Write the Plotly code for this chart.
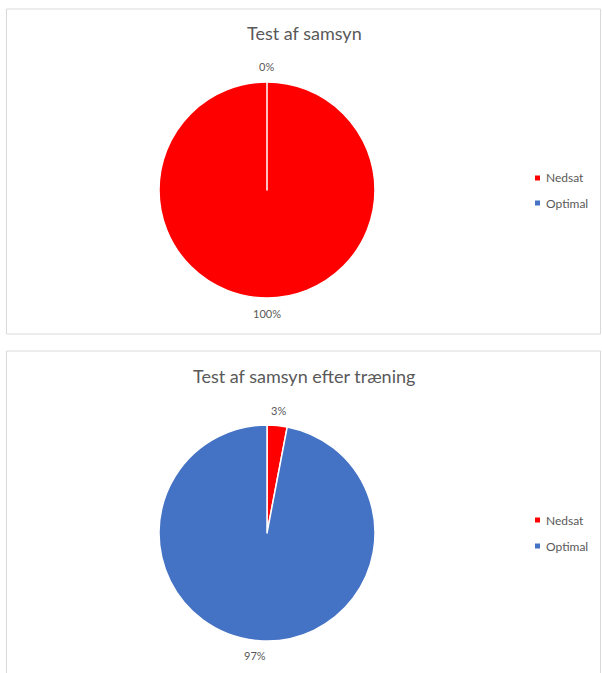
import math
import plotly.graph_objects as go

# Chart data
categories = ["Nedsat", "Optimal"]
colors = ["#FF0000", "#4472C4"]
before_values = [100, 0]
after_values = [3, 97]
titles = ["Test af samsyn", "Test af samsyn efter træning"]

W, H = 602, 673
TEXT_GREY = "#595959"
FONT = "Lato"
RADIUS = 108
LABEL_DIST = 123


def fx(px):
    return px / W


def fy(py):
    return 1 - py / H


def pie_trace(values, cx, cy, r):
    return go.Pie(
        labels=categories,
        values=values,
        sort=False,
        direction="clockwise",
        rotation=0,
        marker=dict(colors=colors, line=dict(color="white", width=1.5)),
        textinfo="none",
        showlegend=False,
        hoverinfo="label+value+percent",
        domain=dict(x=[fx(cx - r), fx(cx + r)], y=[fy(cy + r), fy(cy - r)]),
    )


def percent_labels(values, cx, cy):
    """Percent labels placed just outside each slice at its mid-angle."""
    total = sum(values)
    out = []
    start = 0.0
    for v in values:
        frac = v / total
        mid = (start + frac / 2) * 2 * math.pi
        start += frac
        px = cx + LABEL_DIST * math.sin(mid)
        py = cy - LABEL_DIST * math.cos(mid)
        out.append(dict(text=f"{round(frac * 100)}%", x=fx(px), y=fy(py),
                        xref="paper", yref="paper", xanchor="center", yanchor="middle",
                        showarrow=False,
                        font=dict(family=FONT, size=11, color=TEXT_GREY)))
    return out


pies = [(before_values, 267, 190), (after_values, 267, 533)]

fig = go.Figure()
for vals, cx, cy in pies:
    fig.add_trace(pie_trace(vals, cx, cy, RADIUS))

shapes = []
annotations = []

# Panel frames
for (top, bottom) in [(9, 334), (351, 690)]:
    shapes.append(dict(type="rect", xref="paper", yref="paper",
                       x0=fx(6.5), x1=fx(600.5), y0=fy(bottom), y1=fy(top),
                       line=dict(color="#D9D9D9", width=1), fillcolor="rgba(0,0,0,0)",
                       layer="below"))

# Titles
for title, ty in zip(titles, [33, 376]):
    annotations.append(dict(text=title, x=fx(304), y=fy(ty), xref="paper", yref="paper",
                            xanchor="center", yanchor="middle", showarrow=False,
                            font=dict(family=FONT, size=18, color=TEXT_GREY)))

# Slice labels
for vals, cx, cy in pies:
    annotations.extend(percent_labels(vals, cx, cy))

# Legends
for ys in [(178, 203), (520, 546)]:
    for name, col, ly in zip(categories, colors, ys):
        shapes.append(dict(type="rect", xref="paper", yref="paper",
                           x0=fx(535), x1=fx(540), y0=fy(ly + 2.5), y1=fy(ly - 2.5),
                           line=dict(width=0), fillcolor=col))
        annotations.append(dict(text=name, x=fx(544), y=fy(ly), xref="paper", yref="paper",
                                xanchor="left", yanchor="middle", showarrow=False,
                                font=dict(family=FONT, size=12, color=TEXT_GREY)))

fig.update_layout(
    width=W, height=H,
    margin=dict(l=0, r=0, t=0, b=0),
    paper_bgcolor="white",
    plot_bgcolor="white",
    shapes=shapes,
    annotations=annotations,
)

fig.write_html("out.html")
